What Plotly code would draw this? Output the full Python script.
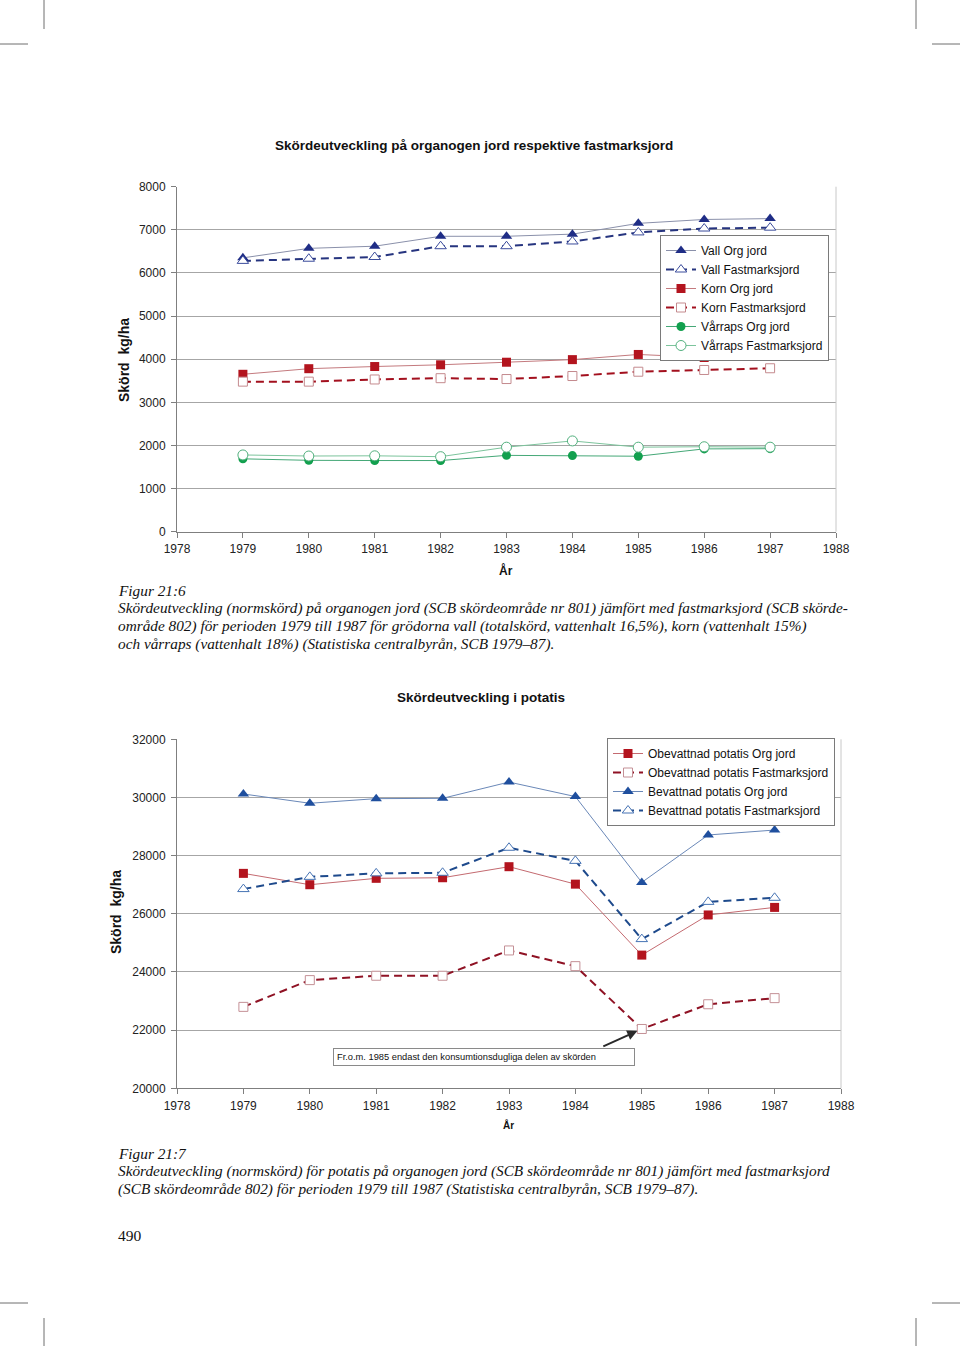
import plotly.graph_objects as go

W, H = 960, 1346

years = [1979, 1980, 1981, 1982, 1983, 1984, 1985, 1986, 1987]

# Figur 21:6 (kg/ha)
vall_org = [6350, 6570, 6620, 6850, 6850, 6900, 7150, 7240, 7260]
vall_fast = [6280, 6330, 6370, 6620, 6620, 6730, 6940, 7030, 7050]
korn_org = [3650, 3780, 3830, 3870, 3930, 3990, 4110, 4040, 4075]
korn_fast = [3480, 3480, 3530, 3560, 3540, 3610, 3710, 3750, 3790]
raps_org = [1690, 1655, 1650, 1650, 1770, 1765, 1750, 1920, 1925]
raps_fast = [1780, 1755, 1760, 1740, 1960, 2105, 1960, 1970, 1960]

# Figur 21:7 (kg/ha)
obev_org = [27390, 27000, 27220, 27240, 27620, 27020, 24580, 25960, 26220]
obev_fast = [22800, 23720, 23870, 23870, 24740, 24200, 22040, 22890, 23100]
bev_org = [30120, 29800, 29960, 29970, 30530, 30030, 27080, 28710, 28880]
bev_fast = [26850, 27270, 27390, 27410, 28270, 27820, 25130, 26410, 26550]

x_ticks = list(range(1978, 1989))

def px(x):
    return x / W

def py(y):
    return 1 - y / H

SANS = "Liberation Sans, Arial, sans-serif"
SERIF = "Liberation Serif, Times New Roman, serif"
DASH = "8px,5px"

fig = go.Figure()

def add(x, y, name, axis, legend, lcolor, lwidth, dash, symbol, msize, mcolor, mline, mlw):
    fig.add_trace(go.Scatter(
        x=x, y=y, name=name, mode="lines+markers",
        xaxis="x" if axis == 1 else "x2", yaxis="y" if axis == 1 else "y2",
        legend=legend,
        line=dict(color=lcolor, width=lwidth, dash=dash),
        marker=dict(symbol=symbol, size=msize, color=mcolor,
                    line=dict(color=mline, width=mlw)),
    ))

# chart 1
add(years, vall_org, "Vall Org jord", 1, "legend", "#8a90aa", 1, "solid", "triangle-up", 10, "#1f2d86", "#1f2d86", 0)
add(years, vall_fast, "Vall Fastmarksjord", 1, "legend", "#26347f", 2, DASH, "triangle-up", 10, "white", "#3b4c9c", 1)
add(years, korn_org, "Korn Org jord", 1, "legend", "#c47a7e", 1, "solid", "square", 9, "#b3141e", "#b3141e", 0)
add(years, korn_fast, "Korn Fastmarksjord", 1, "legend", "#a3101e", 2, DASH, "square", 9, "white", "#c48a8e", 1)
add(years, raps_org, "Vårraps Org jord", 1, "legend", "#45a877", 1, "solid", "circle", 9, "#12a04e", "#12a04e", 0)
add(years, raps_fast, "Vårraps Fastmarksjord", 1, "legend", "#7cc49c", 1, "solid", "circle", 10, "white", "#52b07e", 1)

# chart 2
add(years, obev_org, "Obevattnad potatis Org jord", 2, "legend2", "#c46a70", 1, "solid", "square", 9, "#b3141e", "#b3141e", 0)
add(years, obev_fast, "Obevattnad potatis Fastmarksjord", 2, "legend2", "#8f1224", 2, DASH, "square", 9, "white", "#c49096", 1)
add(years, bev_org, "Bevattnad potatis Org jord", 2, "legend2", "#6a88b8", 1, "solid", "triangle-up", 10, "#1f4f9e", "#1f4f9e", 0)
add(years, bev_fast, "Bevattnad potatis Fastmarksjord", 2, "legend2", "#1e4a8c", 2, DASH, "triangle-up", 10, "white", "#4673b4", 1)

axis_common = dict(
    showline=True, linecolor="#7f7f7f", linewidth=1,
    ticks="outside", ticklen=5, tickcolor="#7f7f7f", tickwidth=1,
    tickfont=dict(family=SANS, size=12, color="#222222"),
    zeroline=False, fixedrange=True, automargin=False, tickformat="d",
)

fig.update_layout(
    template="none",
    width=W, height=H, autosize=False,
    margin=dict(l=0, r=0, t=0, b=0, pad=0, autoexpand=False),
    paper_bgcolor="white", plot_bgcolor="white",
    showlegend=True,
    xaxis=dict(domain=[px(177), px(836)], range=[1978, 1988], tickvals=x_ticks,
               showgrid=False, anchor="y", ticklabelstandoff=1, **axis_common),
    yaxis=dict(domain=[py(531.7), py(186.7)], range=[0, 8000], dtick=1000,
               showgrid=True, gridcolor="#a6a6a6", gridwidth=1, anchor="x",
               ticklabelstandoff=3, **axis_common),
    xaxis2=dict(domain=[px(177), px(841)], range=[1978, 1988], tickvals=x_ticks,
                showgrid=False, anchor="y2", ticklabelstandoff=1, **axis_common),
    yaxis2=dict(domain=[py(1088.3), py(739.3)], range=[20000, 32000], dtick=2000,
                showgrid=True, gridcolor="#a6a6a6", gridwidth=1, anchor="x2",
                ticklabelstandoff=3, **axis_common),
    legend=dict(x=px(660), y=py(235), xanchor="left", yanchor="top",
                bgcolor="white", bordercolor="#7a7a7a", borderwidth=1,
                font=dict(family=SANS, size=12, color="#111111"),
                tracegroupgap=0, itemclick=False, itemdoubleclick=False),
    legend2=dict(x=px(607), y=py(738), xanchor="left", yanchor="top",
                 bgcolor="white", bordercolor="#7a7a7a", borderwidth=1,
                 font=dict(family=SANS, size=12, color="#111111"),
                 tracegroupgap=0, itemclick=False, itemdoubleclick=False),
)

shapes = []
# right borders of plot areas
for xr, yr in (("x domain", "y domain"), ("x2 domain", "y2 domain")):
    shapes.append(dict(type="line", xref=xr, yref=yr, x0=1, x1=1, y0=0, y1=1,
                       line=dict(color="#c8c8c8", width=1)))
# crop marks
crop = "#6e6e6e"
for (x0, y0, x1, y1) in [
    (44, 0, 44, 29), (916, 0, 916, 29), (0, 44, 28, 44), (932, 44, 960, 44),
    (0, 1303, 28, 1303), (932, 1303, 960, 1303), (44, 1318, 44, 1346), (916, 1318, 916, 1346),
]:
    shapes.append(dict(type="line", xref="paper", yref="paper",
                       x0=px(x0), y0=py(y0), x1=px(x1), y1=py(y1),
                       line=dict(color=crop, width=1)))
fig.update_layout(shapes=shapes)

ann = []

def text(x, y, s, size, family=SANS, xanchor="center", yanchor="middle", angle=0, color="#111111"):
    ann.append(dict(xref="paper", yref="paper", x=px(x), y=py(y), text=s,
                    showarrow=False, xanchor=xanchor, yanchor=yanchor, textangle=angle,
                    font=dict(family=family, size=size, color=color)))

text(474, 145, "<b>Skördeutveckling på organogen jord respektive fastmarksjord</b>", 13.5)
text(481, 697, "<b>Skördeutveckling i potatis</b>", 13.5)
text(124, 360, "<b>Skörd  kg/ha</b>", 14, angle=-90)
text(116, 912, "<b>Skörd  kg/ha</b>", 14, angle=-90)
text(506, 570, "<b>År</b>", 12)
text(509, 1125, "<b>År</b>", 10)

cap1 = [
    "Figur 21:6",
    "Skördeutveckling (normskörd) på organogen jord (SCB skördeområde nr 801) jämfört med fastmarksjord (SCB skörde-",
    "område 802) för perioden 1979 till 1987 för grödorna vall (totalskörd, vattenhalt 16,5%), korn (vattenhalt 15%)",
    "och vårraps (vattenhalt 18%) (Statistiska centralbyrån, SCB 1979–87).",
]
cap2 = [
    "Figur 21:7",
    "Skördeutveckling (normskörd) för potatis på organogen jord (SCB skördeområde nr 801) jämfört med fastmarksjord",
    "(SCB skördeområde 802) för perioden 1979 till 1987 (Statistiska centralbyrån, SCB 1979–87).",
]
for i, line in enumerate(cap1):
    text(116, 590 + 18 * i, "<i>" + line + "</i>", 15.3, family=SERIF, xanchor="left", color="#111111")
for i, line in enumerate(cap2):
    text(116, 1153 + 18 * i, "<i>" + line + "</i>", 15.3, family=SERIF, xanchor="left", color="#111111")
text(116, 1235, "490", 15.5, family=SERIF, xanchor="left", color="#111111")

# note box
ann.append(dict(xref="paper", yref="paper", x=px(333), y=py(1056.5), xanchor="left", yanchor="middle",
                text="Fr.o.m. 1985 endast den konsumtionsdugliga delen av skörden",
                showarrow=False, align="left", width=294, bgcolor="white",
                bordercolor="#8a8a8a", borderwidth=1, borderpad=3,
                font=dict(family=SANS, size=9.3, color="#111111")))
# arrow to 1985 value
ann.append(dict(xref="x2", yref="y2", x=years[6], y=obev_fast[6], text="",
                showarrow=True, arrowhead=2, arrowsize=1, arrowwidth=2, arrowcolor="#2a2a2a",
                ax=-40, ay=18, standoff=5))
fig.update_layout(annotations=ann)

fig.write_html("out.html", config={"displayModeBar": False},
               post_script="document.body.style.margin='0';")
